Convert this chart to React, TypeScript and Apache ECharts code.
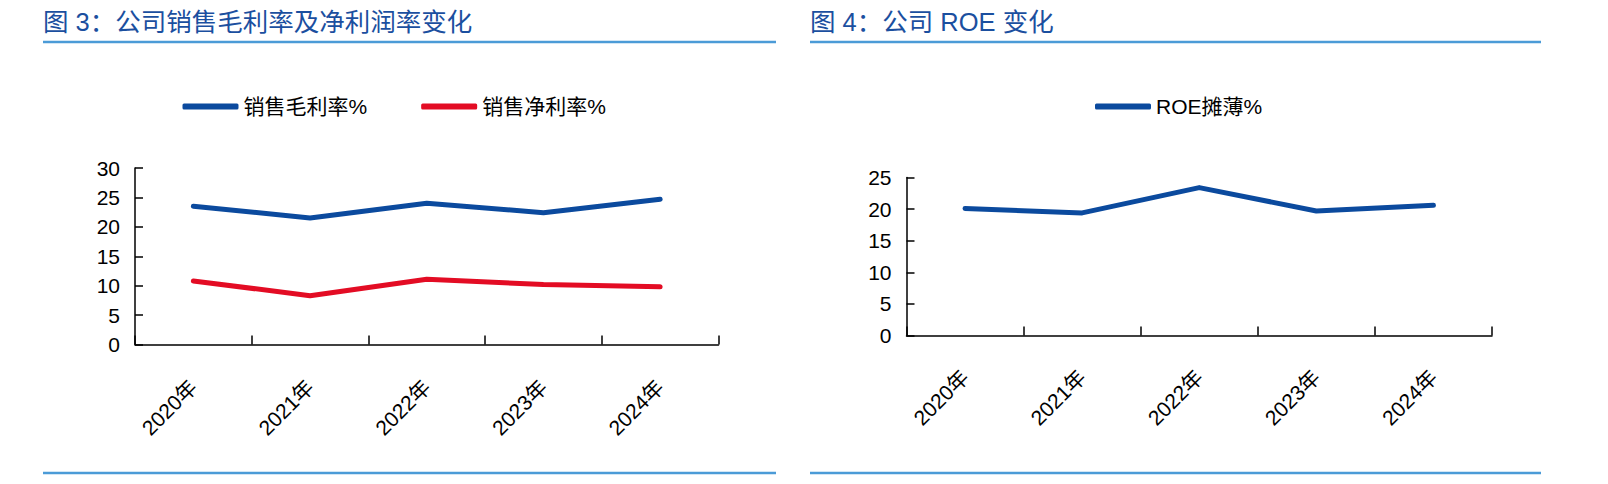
import React, { useEffect, useRef } from "react";
import * as echarts from "echarts";

const years = ["2020年", "2021年", "2022年", "2023年", "2024年"];
const grossMargin = [23.5, 21.5, 24.0, 22.4, 24.7];
const netMargin = [10.8, 8.3, 11.1, 10.2, 9.8];
const roeDiluted = [20.1, 19.4, 23.4, 19.7, 20.6];

const leftTitle = "图 3：公司销售毛利率及净利润率变化";
const rightTitle = "图 4：公司 ROE 变化";
const seriesNames = ["销售毛利率%", "销售净利率%", "ROE摊薄%"];

const FONT = '"Liberation Sans", Arial, "Noto Sans CJK SC", sans-serif';
const BLUE = "#0b4a9e";
const RED = "#e30c24";
const TITLE_BLUE = "#1b4f9f";
const RULE = "#4b9bd7";

export default function App() {
  const ref = useRef<HTMLDivElement>(null);
  useEffect(() => {
    if (!ref.current) return;
    const chart = echarts.init(ref.current, undefined, { renderer: "svg" });
    const axisLabelY = { color: "#000", fontSize: 21, fontFamily: FONT, margin: 15 };
    const labelMargins = [39, 38];
    const axisLine = { show: true, lineStyle: { color: "#000", width: 1.5 } };
    chart.setOption({
      animation: false,
      textStyle: { fontFamily: FONT },
      grid: [
        { left: 135, top: 168, width: 583.5, height: 176.5 },
        { left: 906.5, top: 177.5, width: 585.5, height: 158 },
      ],
      legend: [
        {
          data: [seriesNames[0], seriesNames[1]],
          left: 177.5,
          top: 91,
          icon: "roundRect",
          itemWidth: 56,
          itemHeight: 6,
          itemGap: 54,
          textStyle: { fontSize: 21, color: "#000", fontFamily: FONT },
        },
        {
          data: [seriesNames[2]],
          left: 1090,
          top: 91,
          icon: "roundRect",
          itemWidth: 56,
          itemHeight: 6,
          textStyle: { fontSize: 21, color: "#000", fontFamily: FONT },
        },
      ],
      xAxis: [0, 1].map((i) => ({
        type: "category",
        gridIndex: i,
        data: years,
        boundaryGap: true,
        axisLine,
        axisTick: { show: true, inside: true, length: 9, lineStyle: { color: "#000", width: 1.5 } },
        axisLabel: {
          color: "#000",
          fontSize: 21,
          fontFamily: FONT,
          rotate: 45,
          margin: labelMargins[i],
          interval: 0,
        },
        splitLine: { show: false },
      })),
      yAxis: [
        { min: 0, max: 30, interval: 5 },
        { min: 0, max: 25, interval: 5 },
      ].map((s, i) => ({
        type: "value",
        gridIndex: i,
        ...s,
        axisLine,
        axisTick: { show: true, inside: true, length: 8, lineStyle: { color: "#000", width: 1.5 } },
        axisLabel: axisLabelY,
        splitLine: { show: false },
      })),
      series: [
        {
          name: seriesNames[0],
          type: "line",
          xAxisIndex: 0,
          yAxisIndex: 0,
          data: grossMargin,
          showSymbol: false,
          symbol: "none",
          color: BLUE,
          lineStyle: { width: 5, color: BLUE, cap: "round", join: "round" },
        },
        {
          name: seriesNames[1],
          type: "line",
          xAxisIndex: 0,
          yAxisIndex: 0,
          data: netMargin,
          showSymbol: false,
          symbol: "none",
          color: RED,
          lineStyle: { width: 5, color: RED, cap: "round", join: "round" },
        },
        {
          name: seriesNames[2],
          type: "line",
          xAxisIndex: 1,
          yAxisIndex: 1,
          data: roeDiluted,
          showSymbol: false,
          symbol: "none",
          color: BLUE,
          lineStyle: { width: 5, color: BLUE, cap: "round", join: "round" },
        },
      ],
      graphic: [
        {
          type: "text",
          left: 43,
          top: 9,
          style: { text: leftTitle, fill: TITLE_BLUE, font: `25.5px ${FONT}` },
        },
        {
          type: "text",
          left: 810,
          top: 9,
          style: { text: rightTitle, fill: TITLE_BLUE, font: `25.5px ${FONT}` },
        },
        { type: "line", shape: { x1: 43, y1: 42, x2: 776, y2: 42 }, style: { stroke: RULE, lineWidth: 2.5 } },
        { type: "line", shape: { x1: 810, y1: 42, x2: 1541, y2: 42 }, style: { stroke: RULE, lineWidth: 2.5 } },
        { type: "line", shape: { x1: 43, y1: 473, x2: 776, y2: 473 }, style: { stroke: RULE, lineWidth: 2.5 } },
        { type: "line", shape: { x1: 810, y1: 473, x2: 1541, y2: 473 }, style: { stroke: RULE, lineWidth: 2.5 } },
      ],
    });
    return () => chart.dispose();
  }, []);
  return (
    <div
      ref={ref}
      style={{ position: "absolute", left: 0, top: 0, width: 1608, height: 484, background: "#fff" }}
    />
  );
}
